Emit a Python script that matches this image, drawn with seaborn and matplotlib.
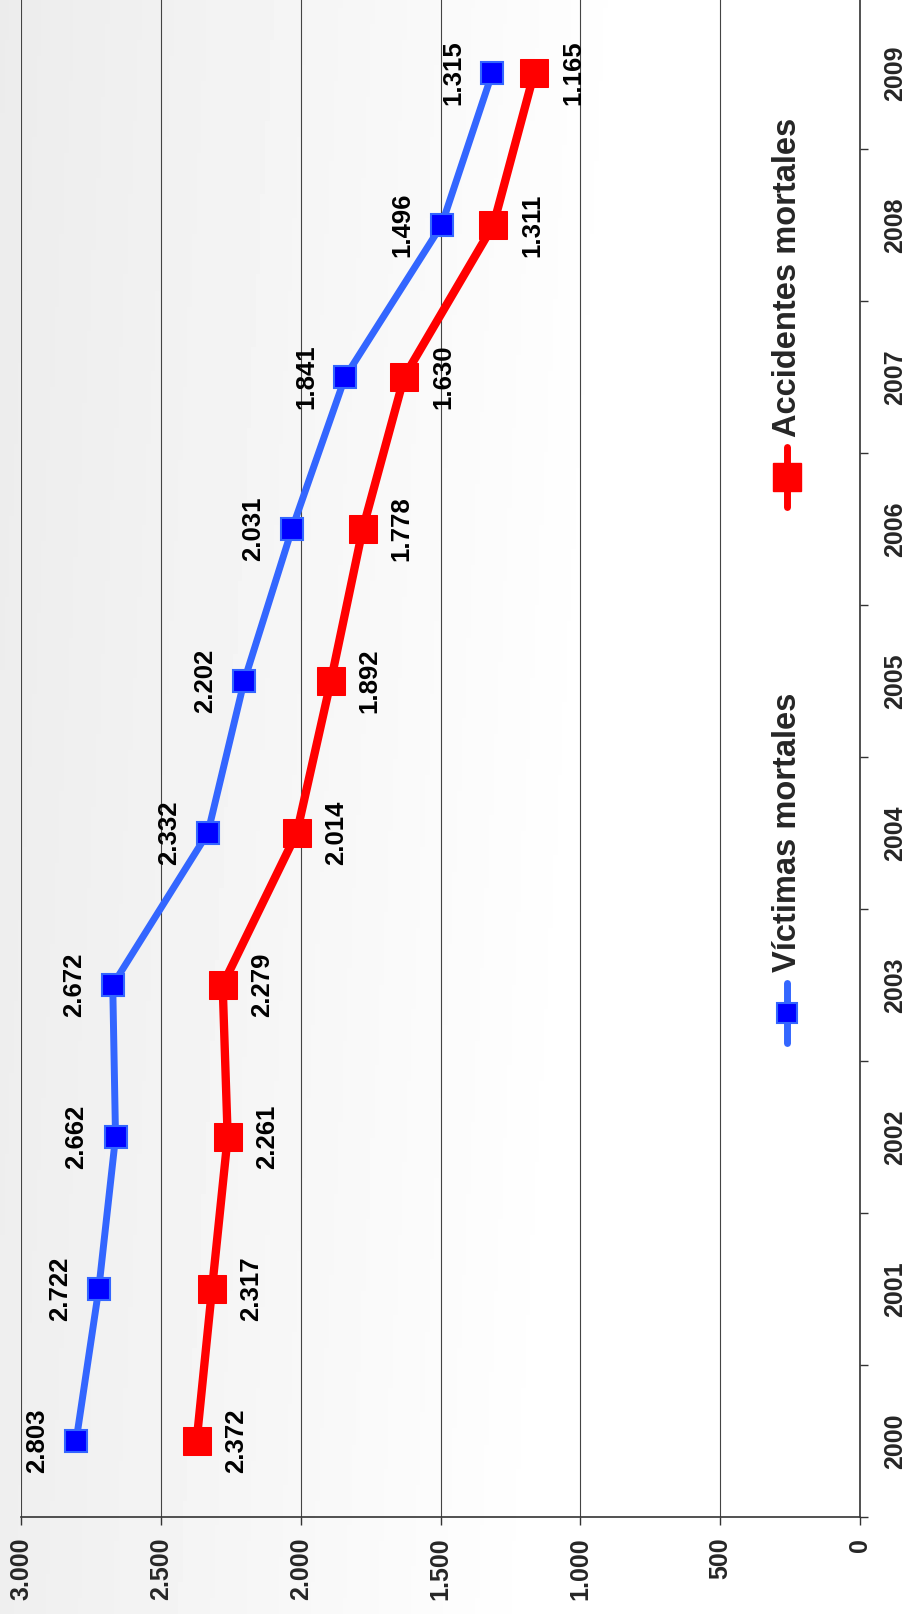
import numpy as np
import pandas as pd
import matplotlib
matplotlib.use("Agg")
import matplotlib.pyplot as plt
import seaborn as sns
from matplotlib.lines import Line2D

# data
years = ["2000", "2001", "2002", "2003", "2004", "2005", "2006", "2007", "2008", "2009"]
victimas = [2803, 2722, 2662, 2672, 2332, 2202, 2031, 1841, 1496, 1315]
accidentes = [2372, 2317, 2261, 2279, 2014, 1892, 1778, 1630, 1311, 1165]
value_ticks = [0, 500, 1000, 1500, 2000, 2500, 3000]
legend_names = ["Víctimas mortales", "Accidentes mortales"]

sns.set_theme(style="white")
plt.rcParams['font.family'] = ['Liberation Sans', 'DejaVu Sans']


def fmt(v):
    # spanish thousands separator
    return f"{v:,}".replace(",", ".")


def main():
    df = pd.DataFrame({"pos": np.arange(len(years)), "year": years,
                       "victimas": victimas, "accidentes": accidentes})

    fig = plt.figure(figsize=(9.14, 16.14), dpi=100)

    # soft grey background, fading to white on the right
    bg = fig.add_axes([0, 0, 1, 1], zorder=-1)
    xx, yy = np.meshgrid(np.linspace(0, 1, 200), np.linspace(0, 1, 200))
    grad = 0.925 + 0.075 * np.clip(xx / 0.7 + 0.15 * yy, 0, 1)
    bg.imshow(grad, cmap="gray", vmin=0, vmax=1, aspect="auto", extent=[0, 1, 0, 1])
    bg.axis("off")

    # chart is drawn turned by 90 degrees: values run horizontally, years vertically
    ax = fig.add_axes([21 / 914, 97 / 1614, 839 / 914, 1520 / 1614])
    ax.set_facecolor("none")

    sns.lineplot(data=df, x="victimas", y="pos", orient="y", sort=False, ax=ax,
                 color="#3366FF", linewidth=5, marker="s", markersize=16,
                 markerfacecolor="#0000FF", markeredgecolor="#3366FF",
                 markeredgewidth=1.5, legend=False, zorder=3)
    sns.lineplot(data=df, x="accidentes", y="pos", orient="y", sort=False, ax=ax,
                 color="#FF0000", linewidth=6, marker="s", markersize=20,
                 markerfacecolor="#FF0000", markeredgecolor="#FF0000",
                 legend=False, zorder=3)

    ax.set_xlim(3000, 0)
    ax.set_ylim(-0.5, len(years) - 0.5)

    # value labels
    for i, row in df.iterrows():
        ax.annotate(fmt(row["victimas"]), (row["victimas"], row["pos"]),
                    xytext=(-39, 0), textcoords="offset pixels",
                    rotation=90, ha="center", va="center",
                    fontsize=18.5, fontweight="bold", color="black", zorder=4)
        ax.annotate(fmt(row["accidentes"]), (row["accidentes"], row["pos"]),
                    xytext=(39, 0), textcoords="offset pixels",
                    rotation=90, ha="center", va="center",
                    fontsize=18.5, fontweight="bold", color="black", zorder=4)

    # value axis (bottom)
    ax.set_xticks(value_ticks)
    ax.set_xticklabels([fmt(v) for v in value_ticks], rotation=90,
                       fontsize=18, fontweight="bold")
    ax.grid(axis="x", color="#444444", linewidth=0.8)
    ax.grid(axis="y", visible=False)
    ax.tick_params(axis="x", direction="out", length=6, width=1,
                   color="#333333", pad=9, bottom=True)

    # year axis (right)
    ax.yaxis.tick_right()
    ax.set_yticks(df["pos"])
    ax.set_yticklabels(years, rotation=90, fontsize=18, fontweight="bold",
                       va="center")
    ax.set_yticks(np.arange(-0.5, len(years), 1.0), minor=True)
    ax.tick_params(axis="y", which="major", length=0, pad=17)
    ax.tick_params(axis="y", which="minor", direction="out", length=6,
                   width=1, color="#333333", right=True, left=False)
    ax.set_xlabel("")
    ax.set_ylabel("")

    for side in ["top", "left"]:
        ax.spines[side].set_visible(False)
    for side in ["bottom", "right"]:
        ax.spines[side].set_color("#333333")
        ax.spines[side].set_linewidth(1.2)

    # legend, written turned like the rest
    handles = [
        Line2D([0.913, 0.913], [0.3513, 0.3118], color="#3366FF", linewidth=5,
               transform=ax.transAxes, clip_on=False),
        Line2D([0.913], [0.3316], marker="s", markersize=14, color="#0000FF",
               markeredgecolor="#3366FF", markeredgewidth=1.5,
               transform=ax.transAxes, clip_on=False),
        Line2D([0.913, 0.913], [0.7039, 0.6645], color="#FF0000", linewidth=5,
               transform=ax.transAxes, clip_on=False),
        Line2D([0.913], [0.684], marker="s", markersize=20, color="#FF0000",
               transform=ax.transAxes, clip_on=False),
    ]
    for h in handles:
        ax.add_line(h)
    ax.text(0.913, 0.3586, legend_names[0], transform=ax.transAxes, rotation=90,
            ha="center", va="bottom", fontsize=23.5, fontweight="bold")
    ax.text(0.913, 0.7105, legend_names[1], transform=ax.transAxes, rotation=90,
            ha="center", va="bottom", fontsize=23.5, fontweight="bold")

    fig.savefig("out.png", dpi=100)
    plt.close(fig)


if __name__ == "__main__":
    main()
